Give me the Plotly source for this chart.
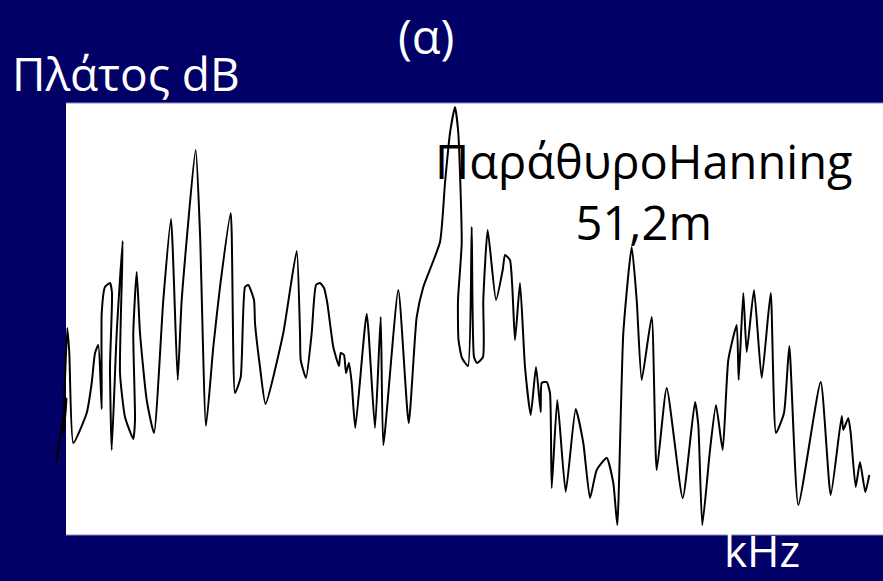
import plotly.graph_objects as go

# Amplitude spectrum with Hanning window (51.2 ms)
freq_khz = [
    -0.10, 0.007, -0.027, 0.013, 0.033, 0.073, 0.207, 0.257, 0.29, 0.323,
    0.357, 0.357, 0.39, 0.44, 0.46, 0.44, 0.457, 0.507, 0.567, 0.54,
    0.59, 0.673, 0.69, 0.673, 0.707, 0.74, 0.807, 0.88, 0.973, 1.05,
    1.117, 1.157, 1.297, 1.34, 1.40, 1.473, 1.54, 1.647, 1.69, 1.747,
    1.79, 1.823, 1.88, 1.89, 1.94, 1.995, 2.173, 2.307, 2.34, 2.347,
    2.40, 2.457, 2.50, 2.54, 2.58, 2.613, 2.673, 2.73, 2.747, 2.78,
    2.80, 2.83, 2.857, 2.893, 3.007, 3.09, 3.147, 3.173, 3.323, 3.427,
    3.507, 3.573, 3.74, 3.79, 3.84, 3.89, 3.923, 3.957, 3.92, 3.925,
    3.96, 4.02, 4.057, 4.08, 4.11, 4.17, 4.173, 4.217, 4.30, 4.367,
    4.39, 4.44, 4.49, 4.54, 4.59, 4.647, 4.70, 4.747, 4.757, 4.807,
    4.84, 4.857, 4.913, 4.997, 5.097, 5.173, 5.24, 5.307, 5.407, 5.473,
    5.513, 5.573, 5.657, 5.707, 5.757, 5.857, 5.907, 6.007, 6.167, 6.29,
    6.323, 6.363, 6.44, 6.50, 6.567, 6.623, 6.707, 6.727, 6.773, 6.807,
    6.88, 6.957, 7.047, 7.10, 7.18, 7.233, 7.323, 7.547, 7.647, 7.757,
    7.773, 7.823, 7.847, 7.897, 7.94, 7.993, 8.033,
]
amplitude_db = [
    7.2, 13.7, 10.0, 20.7, 18.2, 9.2, 12.2, 15.2, 18.2, 19.0,
    12.6, 22.2, 24.8, 25.2, 24.2, 16.8, 8.5, 20.2, 29.4, 16.2,
    11.8, 9.6, 11.5, 20.2, 26.3, 20.2, 13.5, 10.2, 23.5, 31.6,
    15.5, 23.5, 38.5, 30.2, 10.9, 18.8, 24.8, 32.2, 14.2, 15.8,
    24.8, 25.0, 23.5, 21.2, 16.8, 13.1, 20.2, 28.4, 20.2, 17.5,
    15.7, 20.2, 25.0, 25.2, 24.7, 23.2, 18.8, 16.9, 18.2, 18.0,
    16.2, 17.2, 15.2, 10.7, 22.1, 10.7, 21.8, 9.0, 24.5, 11.2,
    21.8, 24.8, 29.3, 35.2, 40.2, 42.8, 40.2, 29.2, 23.5, 19.5,
    17.7, 16.9, 30.8, 17.8, 17.2, 17.8, 23.5, 30.5, 23.5, 26.5,
    28.0, 27.5, 19.5, 25.2, 16.8, 12.0, 16.8, 12.3, 15.2, 15.3,
    14.2, 4.7, 13.5, 4.3, 12.6, 9.2, 3.7, 6.5, 7.7, 5.2,
    1.0, 20.2, 28.8, 23.5, 15.5, 21.8, 6.5, 14.7, 3.7, 13.3,
    11.0, 1.0, 8.5, 13.0, 8.5, 17.5, 21.0, 15.5, 24.2, 18.3,
    24.5, 15.7, 24.2, 10.2, 12.2, 18.9, 3.0, 15.3, 4.0, 11.9,
    10.5, 11.7, 10.2, 4.8, 7.3, 4.3, 6.0,
]

# Visible frequency span of the white panel
band_start_khz = 0.0
band_end_khz = 8.17

panel_label = "(α)"
y_label = "Πλάτος dB"
x_label = "kHz"
window_label = "ΠαράθυροHanning"
window_length = "51,2m"

NAVY = "#000066"
EDGE = "#8a8ac0"
FONT = "Open Sans"

fig = go.Figure()
fig.add_trace(go.Scatter(
    x=freq_khz, y=amplitude_db, mode="lines",
    line=dict(color="black", width=2, shape="spline", smoothing=0.5),
    hoverinfo="skip", showlegend=False,
))

# White panel behind the spectrum; the trace may start slightly left of it
fig.add_shape(type="rect", xref="x", yref="paper",
              x0=band_start_khz, x1=band_end_khz, y0=0, y1=1,
              fillcolor="white", line=dict(width=0), layer="below")
for yv in (0, 1):
    fig.add_shape(type="line", xref="x", yref="paper",
                  x0=band_start_khz, x1=band_end_khz, y0=yv, y1=yv,
                  line=dict(color=EDGE, width=1), layer="below")

fig.update_layout(
    width=883, height=581,
    margin=dict(l=56, r=0, t=103, b=46),
    paper_bgcolor=NAVY, plot_bgcolor=NAVY,
    xaxis=dict(range=[-0.10, band_end_khz], showgrid=False, zeroline=False,
               showticklabels=False, ticks="", showline=False, fixedrange=True),
    yaxis=dict(range=[0, 43.2], showgrid=False, zeroline=False,
               showticklabels=False, ticks="", showline=False, fixedrange=True),
    annotations=[
        dict(text=panel_label, xref="paper", yref="paper", x=0.447, y=1.154,
             xanchor="center", yanchor="middle", showarrow=False,
             font=dict(family=FONT, size=47, color="white")),
        dict(text=y_label, xref="paper", yref="paper", x=-0.0556, y=1.07,
             xanchor="left", yanchor="middle", showarrow=False,
             font=dict(family=FONT, size=46, color="white")),
        dict(text=window_label + "<br>" + window_length,
             xref="paper", yref="paper", x=0.7098, y=0.795,
             xanchor="center", yanchor="middle", align="center",
             showarrow=False,
             font=dict(family=FONT, size=47, color="black")),
        dict(text=x_label, xref="paper", yref="paper", x=0.8537, y=-0.1065,
             xanchor="center", yanchor="bottom", showarrow=False,
             borderpad=0,
             font=dict(family=FONT, size=44, color="white")),
    ],
)

fig.write_html("out.html")
